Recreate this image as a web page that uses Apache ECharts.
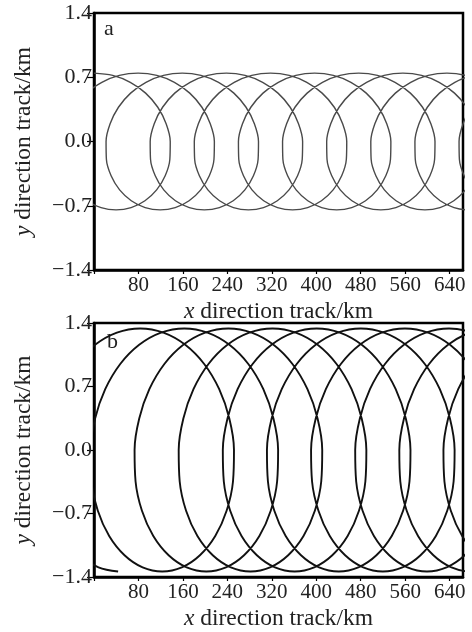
<!DOCTYPE html>
<html><head><meta charset="utf-8">
<script src="https://cdn.jsdelivr.net/npm/echarts@6/dist/echarts.min.js"></script>
<style>html,body{margin:0;padding:0;background:#fff}#c{width:472px;height:632px}</style>
</head><body><div id="c"></div>
<script>
// ---- data ----
const xTicks = [80, 160, 240, 320, 400, 480, 560, 640];
const yTicks = [-1.4, -0.7, 0.0, 0.7, 1.4];

// panel a: track points (x in km, y in km)
const trackAX = [
 0,33.7,65.3,92.9,114.8,129.8,137.2,136.5,128.1,112.7,91.7,66.8,39.7,12.7,-12.3,-33.3,-48.6,-57.1,-57.8,-50.4,-35.4,-13.5,14.1,45.7,
 79.4,113.1,144.7,172.3,194.2,209.2,216.6,215.9,207.5,192.1,171.1,146.2,119.1,92.1,67.1,46.1,30.8,22.3,21.7,29.0,44.0,65.9,93.5,125.1,
 158.8,192.5,224.1,251.7,273.6,288.6,296.0,295.3,286.9,271.5,250.5,225.6,198.5,171.5,146.5,125.5,110.2,101.7,101.1,108.4,123.4,145.3,172.9,204.5,
 238.2,271.9,303.5,331.1,353.0,368.0,375.4,374.7,366.3,350.9,329.9,305.0,277.9,250.9,225.9,204.9,189.6,181.1,180.5,187.8,202.8,224.7,252.3,283.9,
 317.6,351.3,382.9,410.5,432.4,447.4,454.8,454.1,445.7,430.3,409.3,384.4,357.3,330.3,305.3,284.3,269.0,260.5,259.9,267.2,282.2,304.1,331.7,363.3,
 397.0,430.7,462.3,489.9,511.8,526.8,534.2,533.5,525.1,509.7,488.7,463.8,436.7,409.7,384.7,363.7,348.4,339.9,339.3,346.6,361.6,383.5,411.1,442.7,
 476.4,510.1,541.7,569.3,591.2,606.2,613.6,612.9,604.5,589.1,568.1,543.2,516.1,489.1,464.1,443.1,427.8,419.3,418.7,426.0,441.0,462.9,490.5,522.1,
 555.8,589.5,621.1,648.7,670.6,685.6,693.0,692.3,683.9,668.5,647.5,622.6,595.5,568.5,543.5,522.5,507.2,498.7,498.1,505.4,520.4,542.3,569.9,601.5,
 635.2,668.9,700.5,728.1,750.0,765.0,772.4,771.7,763.3,747.9,726.9,702.0,674.9,647.9,622.9,601.9,586.6,578.1,577.5,584.8,599.8,621.7,649.3,680.9,
 714.6,748.3,779.9,807.5,829.4,844.4,851.8,851.1,842.7,827.3,806.3,781.4,754.3,727.3,702.3,681.3,666.0,657.5,656.9,664.2,679.2,701.1,728.7,760.3
];
const trackAY = [
 0.745,0.72,0.645,0.527,0.373,0.193,0,-0.193,-0.373,-0.527,-0.645,-0.72,-0.745,-0.72,-0.645,-0.527,-0.373,-0.193,0,0.193,0.373,0.527,0.645,0.72,
 0.745,0.72,0.645,0.527,0.373,0.193,0,-0.193,-0.373,-0.527,-0.645,-0.72,-0.745,-0.72,-0.645,-0.527,-0.373,-0.193,0,0.193,0.373,0.527,0.645,0.72,
 0.745,0.72,0.645,0.527,0.373,0.193,0,-0.193,-0.373,-0.527,-0.645,-0.72,-0.745,-0.72,-0.645,-0.527,-0.373,-0.193,0,0.193,0.373,0.527,0.645,0.72,
 0.745,0.72,0.645,0.527,0.373,0.193,0,-0.193,-0.373,-0.527,-0.645,-0.72,-0.745,-0.72,-0.645,-0.527,-0.373,-0.193,0,0.193,0.373,0.527,0.645,0.72,
 0.745,0.72,0.645,0.527,0.373,0.193,0,-0.193,-0.373,-0.527,-0.645,-0.72,-0.745,-0.72,-0.645,-0.527,-0.373,-0.193,0,0.193,0.373,0.527,0.645,0.72,
 0.745,0.72,0.645,0.527,0.373,0.193,0,-0.193,-0.373,-0.527,-0.645,-0.72,-0.745,-0.72,-0.645,-0.527,-0.373,-0.193,0,0.193,0.373,0.527,0.645,0.72,
 0.745,0.72,0.645,0.527,0.373,0.193,0,-0.193,-0.373,-0.527,-0.645,-0.72,-0.745,-0.72,-0.645,-0.527,-0.373,-0.193,0,0.193,0.373,0.527,0.645,0.72,
 0.745,0.72,0.645,0.527,0.373,0.193,0,-0.193,-0.373,-0.527,-0.645,-0.72,-0.745,-0.72,-0.645,-0.527,-0.373,-0.193,0,0.193,0.373,0.527,0.645,0.72,
 0.745,0.72,0.645,0.527,0.373,0.193,0,-0.193,-0.373,-0.527,-0.645,-0.72,-0.745,-0.72,-0.645,-0.527,-0.373,-0.193,0,0.193,0.373,0.527,0.645,0.72,
 0.745,0.72,0.645,0.527,0.373,0.193,0,-0.193,-0.373,-0.527,-0.645,-0.72,-0.745,-0.72,-0.645,-0.527,-0.373,-0.193,0,0.193,0.373,0.527,0.645,0.72
];

// panel b: track points (x in km, y in km)
const trackBX = [
 43.4,8.1,-24.5,-52.1,-72.5,-84.0,-85.8,-77.4,-59.2,-32.2,1.9,41.2,83.1,124.9,164.2,198.3,225.3,243.5,251.9,250.1,238.6,218.2,190.6,158.0,
 122.8,87.5,54.9,27.3,6.9,-4.6,-6.4,2.0,20.2,47.2,81.3,120.6,162.5,204.3,243.6,277.7,304.7,322.9,331.3,329.5,318.0,297.6,270.0,237.4,
 202.2,166.9,134.3,106.7,86.3,74.8,73.0,81.4,99.6,126.6,160.7,200.0,241.9,283.7,323.0,357.1,384.1,402.3,410.7,408.9,397.4,377.0,349.4,316.8,
 281.6,246.3,213.7,186.1,165.7,154.2,152.4,160.8,179.0,206.0,240.1,279.4,321.3,363.1,402.4,436.5,463.5,481.7,490.1,488.3,476.8,456.4,428.8,396.2,
 361.0,325.7,293.1,265.5,245.1,233.6,231.8,240.2,258.4,285.4,319.5,358.8,400.7,442.5,481.8,515.9,542.9,561.1,569.5,567.7,556.2,535.8,508.2,475.6,
 440.4,405.1,372.5,344.9,324.5,313.0,311.2,319.6,337.8,364.8,398.9,438.2,480.1,521.9,561.2,595.3,622.3,640.5,648.9,647.1,635.6,615.2,587.6,555.0,
 519.8,484.5,451.9,424.3,403.9,392.4,390.6,399.0,417.2,444.2,478.3,517.6,559.5,601.3,640.6,674.7,701.7,719.9,728.3,726.5,715.0,694.6,667.0,634.4,
 599.2,563.9,531.3,503.7,483.3,471.8,470.0,478.4,496.6,523.6,557.7,597.0,638.9,680.7,720.0,754.1,781.1,799.3,807.7,805.9,794.4,774.0,746.4,713.8,
 678.6,643.3,610.7,583.1,562.7,551.2,549.4,557.8,576.0,603.0,637.1,676.4,718.3,760.1,799.4,833.5,860.5,878.7,887.1,885.3,873.8,853.4,825.8,793.2,
 758.0,722.7,690.1,662.5,642.1,630.6,628.8,637.2,655.4,682.4,716.5,755.8,797.7
];
const trackBY = [
 -1.34,-1.294,-1.16,-0.948,-0.67,-0.347,0,0.347,0.67,0.948,1.16,1.294,1.34,1.294,1.16,0.948,0.67,0.347,0,-0.347,-0.67,-0.948,-1.16,-1.294,
 -1.34,-1.294,-1.16,-0.948,-0.67,-0.347,0,0.347,0.67,0.948,1.16,1.294,1.34,1.294,1.16,0.948,0.67,0.347,0,-0.347,-0.67,-0.948,-1.16,-1.294,
 -1.34,-1.294,-1.16,-0.948,-0.67,-0.347,0,0.347,0.67,0.948,1.16,1.294,1.34,1.294,1.16,0.948,0.67,0.347,0,-0.347,-0.67,-0.948,-1.16,-1.294,
 -1.34,-1.294,-1.16,-0.948,-0.67,-0.347,0,0.347,0.67,0.948,1.16,1.294,1.34,1.294,1.16,0.948,0.67,0.347,0,-0.347,-0.67,-0.948,-1.16,-1.294,
 -1.34,-1.294,-1.16,-0.948,-0.67,-0.347,0,0.347,0.67,0.948,1.16,1.294,1.34,1.294,1.16,0.948,0.67,0.347,0,-0.347,-0.67,-0.948,-1.16,-1.294,
 -1.34,-1.294,-1.16,-0.948,-0.67,-0.347,0,0.347,0.67,0.948,1.16,1.294,1.34,1.294,1.16,0.948,0.67,0.347,0,-0.347,-0.67,-0.948,-1.16,-1.294,
 -1.34,-1.294,-1.16,-0.948,-0.67,-0.347,0,0.347,0.67,0.948,1.16,1.294,1.34,1.294,1.16,0.948,0.67,0.347,0,-0.347,-0.67,-0.948,-1.16,-1.294,
 -1.34,-1.294,-1.16,-0.948,-0.67,-0.347,0,0.347,0.67,0.948,1.16,1.294,1.34,1.294,1.16,0.948,0.67,0.347,0,-0.347,-0.67,-0.948,-1.16,-1.294,
 -1.34,-1.294,-1.16,-0.948,-0.67,-0.347,0,0.347,0.67,0.948,1.16,1.294,1.34,1.294,1.16,0.948,0.67,0.347,0,-0.347,-0.67,-0.948,-1.16,-1.294,
 -1.34,-1.294,-1.16,-0.948,-0.67,-0.347,0,0.347,0.67,0.948,1.16,1.294,1.34
];

// ---- chart ----
const pairs = (xs, ys) => xs.map((x, i) => [x, ys[i]]);
const chart = echarts.init(document.getElementById('c'));
const font = '"Liberation Serif","Times New Roman",serif';
const txt = '#222';
const nameStyle = {color:txt,fontFamily:font,fontSize:23.5,
  rich:{i:{fontStyle:'italic',fontFamily:font,fontSize:23.5,color:txt}}};
function xAx(i){return {type:'value',gridIndex:i,min:0,max:664,interval:xTicks[1]-xTicks[0],
 axisLine:{show:true,onZero:false,lineStyle:{color:'#000',width:2.5}},
 axisTick:{show:true,length:4,lineStyle:{color:'#000',width:1.2}},
 axisLabel:{showMaxLabel:false,color:txt,fontFamily:font,fontSize:21,margin:5,
   formatter:v=>xTicks.indexOf(v)>=0?String(v):''},
 splitLine:{show:false},name:'{i|x} direction track/km',nameLocation:'middle',nameGap:30,
 nameTextStyle:nameStyle};}
function yAx(i){return {type:'value',gridIndex:i,min:yTicks[0],max:yTicks[yTicks.length-1],interval:0.7,
 axisLine:{show:true,onZero:false,lineStyle:{color:'#000',width:2.5}},
 axisTick:{show:true,length:7,lineStyle:{color:'#000',width:1.2}},
 axisLabel:{color:txt,fontFamily:font,fontSize:22,margin:2,
   formatter:v=>(v<-1e-9?'\u2212':'')+Math.abs(v).toFixed(1)},
 splitLine:{show:false},name:'{i|y} direction track/km',nameLocation:'middle',nameGap:58,nameRotate:90,
 nameTextStyle:nameStyle};}
chart.setOption({animation:false,
 grid:[{left:94,top:13,width:369,height:257,show:true,borderColor:'#000',borderWidth:2.5},
       {left:94,top:323,width:369,height:257,show:true,borderColor:'#000',borderWidth:2.5}],
 xAxis:[xAx(0),xAx(1)],yAxis:[yAx(0),yAx(1)],
 graphic:[{type:'text',left:104,top:18,style:{text:'a',fontFamily:font,fontSize:22,fill:txt}},
          {type:'text',left:107,top:331,style:{text:'b',fontFamily:font,fontSize:22,fill:txt}}],
 series:[{type:'line',xAxisIndex:0,yAxisIndex:0,data:pairs(trackAX,trackAY),showSymbol:false,smooth:0.35,
          clip:true,lineStyle:{color:'#4a4a4a',width:1.4}},
         {type:'line',xAxisIndex:1,yAxisIndex:1,data:pairs(trackBX,trackBY),showSymbol:false,smooth:0.35,
          clip:true,lineStyle:{color:'#111',width:1.9}}]
});
</script></body></html>
